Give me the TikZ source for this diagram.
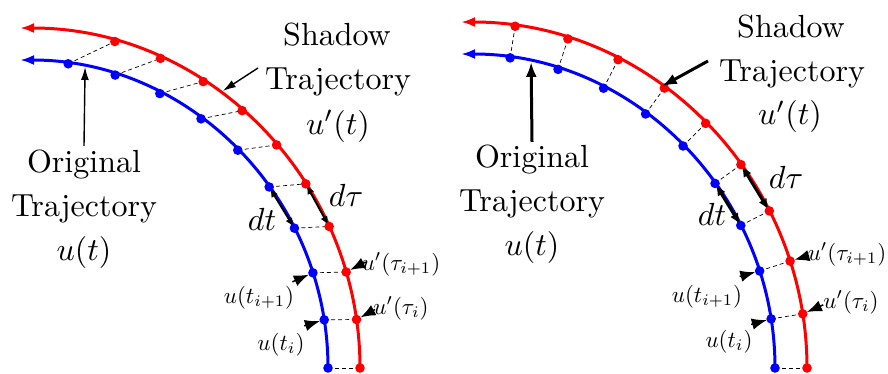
\RequirePackage{fix-cm}
\documentclass[tikz,border=0pt]{standalone}
\usetikzlibrary{arrows.meta,calc}
\begin{document}
\begin{tikzpicture}[x=1pt,y=1pt,
  traj/.style={line width=3pt,-{Latex[length=14pt,width=10pt]}},
  dashln/.style={black,line width=0.7pt,dash pattern=on 4pt off 3pt},
  big/.style={font=\fontsize{10}{12}\selectfont,scale=3.2,inner sep=0pt,anchor=base},
  small/.style={font=\fontsize{10}{12}\selectfont,scale=2.3,inner sep=0pt,anchor=base},
  ptrL/.style={line width=1.4pt,-{Latex[length=13pt,width=8pt]}},
  ptrR/.style={line width=3pt,-{Latex[length=15pt,width=11pt]}},
  dblL/.style={line width=2pt,{Latex[length=9pt,width=7.5pt]}-{Latex[length=9pt,width=7.5pt]},shorten <=1.5pt,shorten >=1.5pt},
  dblR/.style={line width=3pt,{Latex[length=11pt,width=9pt]}-{Latex[length=11pt,width=9pt]},shorten <=1.5pt,shorten >=1.5pt},
  wedge/.style={line width=1.5pt,-{Latex[length=15pt,width=11.5pt]},shorten >=4.5pt},
  dotr/.style={fill=red},
  dotb/.style={fill=blue}]
\useasboundingbox (0,0) rectangle (888,373);
\coordinate (cL) at (20,5);
\coordinate (cR) at (461,5);
% ---------- left panel ----------
\draw[traj,red]  ($(cL)+(0:340)$) arc[start angle=0,end angle=90,radius=340];
\draw[traj,blue] ($(cL)+(0:308)$) arc[start angle=0,end angle=90,radius=308];
\foreach \i in {0,...,9}{
  \coordinate (bL\i) at ($(cL)+(9*\i:308)$);
  \coordinate (rL\i) at ($(cL)+(8.2*\i:340)$);
}
\foreach \i in {0,...,9}{ \draw[dashln] (bL\i) -- (rL\i); }
\draw[dblL] (bL4) -- (bL3);
\draw[dblL] (rL4) -- (rL3);
\foreach \i in {0,...,9}{
  \fill[dotb] (bL\i) circle[radius=4.8];
  \fill[dotr] (rL\i) circle[radius=4.8];
}
\node[big] (oL1) at (84,201) {Original};
\node[big] (oL2) at (84,157) {Trajectory};
\node[big] (oL3) at (84,113) {$u(t)$};
\node[big] (sL1) at (337,327) {Shadow};
\node[big] (sL2) at (338,283) {Trajectory};
\node[big] (sL3) at (338,239) {$u'(t)$};
\node[big] (dtL) at (262,143) {$dt$};
\node[big] (dtauL) at (346,167) {$d\tau$};
\node[small] (l1) at (401,103) {$u'(\tau_{i+1})$};
\node[small] (l2) at (401,59) {$u'(\tau_{i})$};
\node[small] (l3) at (259,70) {$u(t_{i+1})$};
\node[small] (l4) at (281,23) {$u(t_{i})$};
\coordinate (aLe) at ($(cL)+(77.8:308)$);
\draw[ptrL] ([yshift=3pt]oL1.north) -- (aLe);
\coordinate (sLs) at (258,305);
\coordinate (sLe) at ($(cL)+(53.8:343.4)$);
\draw[ptrL] (sLs) -- (sLe);
\coordinate (wL1) at ($(rL2)+(19.5,10)$);
\coordinate (wL2) at ($(rL1)+(18.5,10)$);
\coordinate (wL3) at ($(bL2)+(-20.5,-9)$);
\coordinate (wL4) at ($(bL1)+(-20,-6)$);
\draw[wedge] (wL1) -- (rL2);
\draw[wedge] (wL2) -- (rL1);
\draw[wedge] (wL3) -- (bL2);
\draw[wedge] (wL4) -- (bL1);
% ---------- right panel ----------
\draw[traj,red]  ($(cR)+(0:346)$) arc[start angle=0,end angle=90,radius=346];
\draw[traj,blue] ($(cR)+(0:314)$) arc[start angle=0,end angle=90,radius=314];
\foreach \i in {0,...,9}{
  \coordinate (bR\i) at ($(cR)+(9*\i:314)$);
  \coordinate (rR\i) at ($(cR)+(9*\i:346)$);
}
\foreach \i in {0,...,9}{ \draw[dashln] (bR\i) -- (rR\i); }
\draw[dblR] (bR4) -- (bR3);
\draw[dblR] (rR4) -- (rR3);
\foreach \i in {0,...,9}{
  \fill[dotb] (bR\i) circle[radius=4.8];
  \fill[dotr] (rR\i) circle[radius=4.8];
}
\node[big] (oR1) at (532,206) {Original};
\node[big] (oR2) at (532,162) {Trajectory};
\node[big] (oR3) at (532,118) {$u(t)$};
\node[big] (sR1) at (791,335) {Shadow};
\node[big] (sR2) at (792,291) {Trajectory};
\node[big] (sR3) at (790,248) {$u'(t)$};
\node[big] (dtR) at (712,148) {$dt$};
\node[big] (dtauR) at (786,185) {$d\tau$};
\node[small] (r1) at (847,113) {$u'(\tau_{i+1})$};
\node[small] (r2) at (851,65) {$u'(\tau_{i})$};
\node[small] (r3) at (707,71) {$u(t_{i+1})$};
\node[small] (r4) at (729,26) {$u(t_{i})$};
\coordinate (aRe) at ($(cR)+(77.1:314)$);
\draw[ptrR] ([yshift=2pt]oR1.north) -- (aRe);
\coordinate (sRs) at (708,312);
\coordinate (sRe) at ($(cR)+(54.5:346)$);
\draw[ptrR] (sRs) -- (sRe);
\coordinate (wR1) at ($(rR2)+(19,5.5)$);
\coordinate (wR2) at ($(rR1)+(20.5,9)$);
\coordinate (wR3) at ($(bR2)+(-20,-5.5)$);
\coordinate (wR4) at ($(bR1)+(-20,-5.5)$);
\draw[wedge] (wR1) -- (rR2);
\draw[wedge] (wR2) -- (rR1);
\draw[wedge] (wR3) -- (bR2);
\draw[wedge] (wR4) -- (bR1);
\end{tikzpicture}
\end{document}
